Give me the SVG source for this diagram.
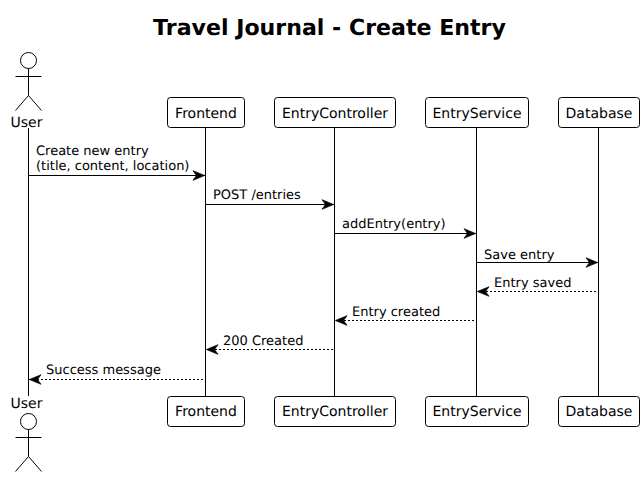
<svg xmlns="http://www.w3.org/2000/svg" width="644" height="477" viewBox="0 0 644 477">
<style>
text{font-family:"DejaVu Sans",sans-serif;font-size:14px;fill:#000;text-rendering:geometricPrecision}
.title{font-size:22.1px;font-weight:bold}
.box{fill:#fff;stroke:#000;stroke-width:1}
.life{stroke:#000;stroke-width:1;fill:none}
.a{stroke:#000;stroke-width:1;fill:none}
.msg{stroke:#000;stroke-width:1;fill:none;marker-end:url(#s)}
.ret{stroke:#000;stroke-width:1;fill:none;stroke-dasharray:2 2;marker-end:url(#s)}
.m{font-size:13px}
.c{text-anchor:middle}
</style>
<defs><marker id="s" markerUnits="userSpaceOnUse" markerWidth="14" markerHeight="12" refX="13" refY="6" viewBox="0 0 14 12" orient="auto"><path d="M1 1.200L12.600 6L1 10.800L4.500 6Z" fill="#000" stroke="#000" stroke-width="0.700"/></marker></defs>
<text class="title c" x="329.500" y="35">Travel Journal - Create Entry</text>
<g id="lifelines" class="life">
<path d="M28.500 128V396"/><path d="M205.500 128V397"/><path d="M334.500 128V397"/><path d="M476.500 128V397"/><path d="M598.500 128V397"/>
</g>
<g id="user-top"><circle class="a" cx="28.500" cy="60.500" r="8"/><path class="a" d="M28.500 68.500V95.500M15.500 76.500H41.500M15.500 110.500L28.500 95.500L41.500 110.500"/><text class="c" x="26.500" y="127">User</text></g>
<g id="user-bottom"><text class="c" x="26.500" y="408">User</text><circle class="a" cx="28.500" cy="421.500" r="8"/><path class="a" d="M28.500 429.500V456.500M15.500 437.500H41.500M15.500 471.500L28.500 456.500L41.500 471.500"/></g>
<g id="frontend-top"><rect class="box" x="167.500" y="97.500" width="77" height="30" rx="3"/><text class="c" x="206" y="118">Frontend</text></g>
<g id="controller-top"><rect class="box" x="274.500" y="97.500" width="121" height="30" rx="3"/><text class="c" x="335" y="118">EntryController</text></g>
<g id="service-top"><rect class="box" x="425.500" y="97.500" width="103" height="30" rx="3"/><text class="c" x="477" y="118">EntryService</text></g>
<g id="database-top"><rect class="box" x="558.500" y="97.500" width="81" height="30" rx="3"/><text class="c" x="599" y="118">Database</text></g>
<g id="frontend-bottom"><rect class="box" x="167.500" y="396.500" width="77" height="30" rx="3"/><text class="c" x="206" y="416">Frontend</text></g>
<g id="controller-bottom"><rect class="box" x="274.500" y="396.500" width="121" height="30" rx="3"/><text class="c" x="335" y="416">EntryController</text></g>
<g id="service-bottom"><rect class="box" x="425.500" y="396.500" width="103" height="30" rx="3"/><text class="c" x="477" y="416">EntryService</text></g>
<g id="database-bottom"><rect class="box" x="558.500" y="396.500" width="81" height="30" rx="3"/><text class="c" x="599" y="416">Database</text></g>
<g id="connectors">
<path class="msg" d="M29 175.500H205"/><path class="msg" d="M206 204.500H334"/><path class="msg" d="M335 233.500H476"/><path class="msg" d="M477 262.500H598"/>
<path class="ret" d="M596 291.500H477"/><path class="ret" d="M474 320.500H335"/><path class="ret" d="M333 349.500H206"/><path class="ret" d="M203 379.500H29"/>
</g>
<g id="labels">
<text class="m" x="36" y="155">Create new entry</text><text class="m" x="36" y="170">(title, content, location)</text>
<text class="m" x="213" y="199">POST /entries</text><text class="m" x="342" y="228">addEntry(entry)</text><text class="m" x="484" y="259">Save entry</text>
<text class="m" x="494" y="287">Entry saved</text><text class="m" x="352" y="316">Entry created</text><text class="m" x="223" y="345">200 Created</text><text class="m" x="46" y="374">Success message</text>
</g>
</svg>
